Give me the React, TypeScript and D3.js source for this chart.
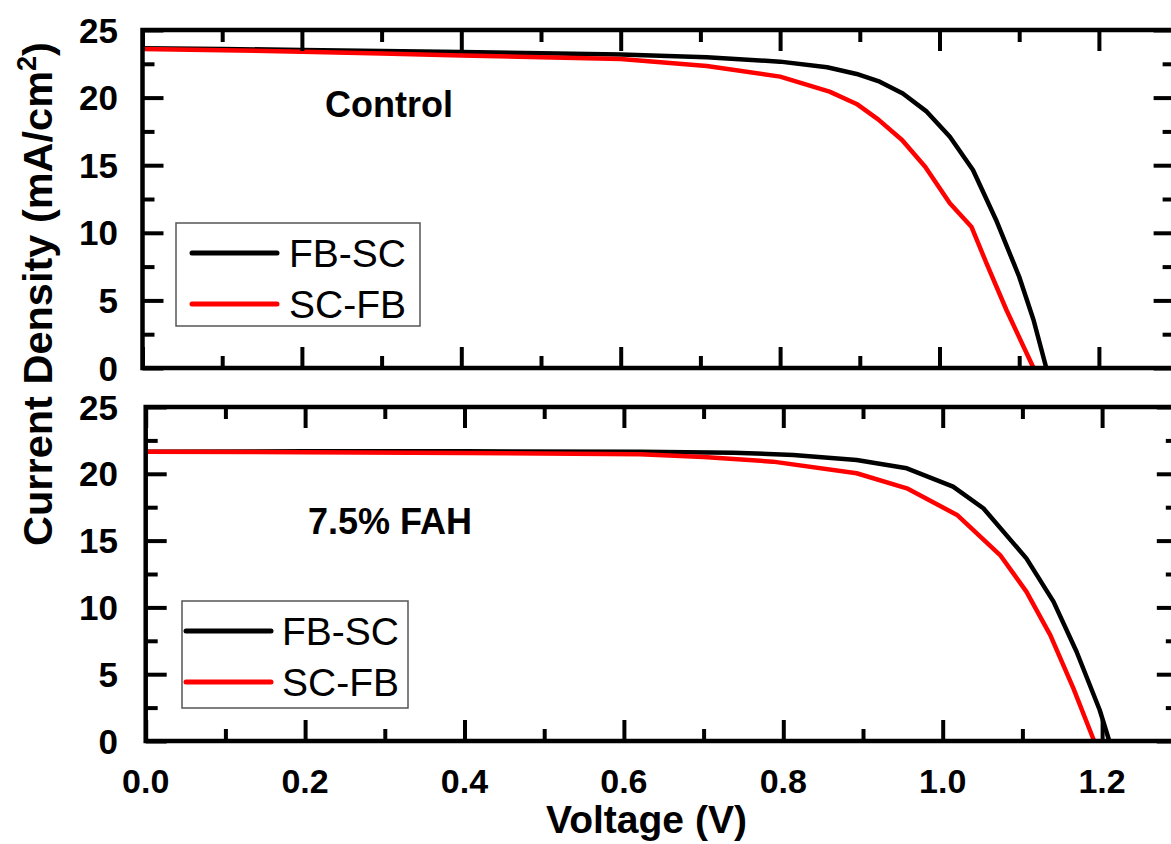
import React, { useEffect, useRef } from "react";
import * as d3 from "d3";

// Control panel, J-V curves (V in volts, J in mA/cm2)
const ctrlFbScV = [0, 0.1, 0.2, 0.3, 0.4, 0.5, 0.6, 0.708, 0.8, 0.859, 0.896, 0.925, 0.954, 0.984, 1.013, 1.042, 1.071, 1.1, 1.118, 1.134];
const ctrlFbScJ = [23.65, 23.6, 23.52, 23.45, 23.37, 23.28, 23.18, 22.98, 22.66, 22.24, 21.75, 21.18, 20.3, 18.96, 17.1, 14.64, 10.95, 6.75, 3.55, 0];
const ctrlScFbV = [0, 0.1, 0.2, 0.3, 0.4, 0.5, 0.6, 0.708, 0.8, 0.862, 0.896, 0.923, 0.953, 0.982, 1.013, 1.04, 1.059, 1.084, 1.118];
const ctrlScFbJ = [23.6, 23.5, 23.4, 23.27, 23.12, 22.98, 22.85, 22.34, 21.55, 20.44, 19.53, 18.39, 16.86, 14.89, 12.18, 10.45, 7.74, 4.29, 0];

// 7.5% FAH panel
const fahFbScV = [0, 0.2, 0.4, 0.62, 0.737, 0.8125, 0.892, 0.955, 1.013, 1.051, 1.105, 1.139, 1.168, 1.197, 1.209];
const fahFbScJ = [21.65, 21.68, 21.68, 21.65, 21.58, 21.41, 21.03, 20.41, 19.04, 17.42, 13.67, 10.43, 6.68, 2.32, 0];
const fahScFbV = [0, 0.2, 0.4, 0.62, 0.7, 0.787, 0.892, 0.955, 1.018, 1.072, 1.105, 1.135, 1.164, 1.19];
const fahScFbJ = [21.65, 21.62, 21.56, 21.46, 21.25, 20.91, 20.04, 18.91, 16.92, 13.92, 11.18, 7.93, 3.94, 0];

const seriesNames = ["FB-SC", "SC-FB"];
const panelTitles = ["Control", "7.5% FAH"];

const xMajorTicks = [0, 0.2, 0.4, 0.6, 0.8, 1.0, 1.2];
const xMinorTicks = [0.1, 0.3, 0.5, 0.7, 0.9, 1.1];
const yMajorTicks = [0, 5, 10, 15, 20, 25];
const yMinorTicks = [2.5, 7.5, 12.5, 17.5, 22.5];

const W = 1171;
const H = 844;
const X_MAX = 1.295;
const PX_PER_V = 797;
const FONT = "'Liberation Sans', Arial, Helvetica, sans-serif";
const COLORS = ["#000000", "#ff0000"];

const panels = [
  {
    x0: 142.5, top: 30, bottom: 368,
    title: panelTitles[0], titleX: 325, titleY: 117,
    series: [[ctrlFbScV, ctrlFbScJ], [ctrlScFbV, ctrlScFbJ]],
    legend: { x: 176, y: 223, w: 244, h: 103, lx1: 192, lx2: 277, tx: 289, rows: [253, 304] },
    xLabels: false,
  },
  {
    x0: 145.7, top: 407, bottom: 741,
    title: panelTitles[1], titleX: 308, titleY: 534,
    series: [[fahFbScV, fahFbScJ], [fahScFbV, fahScFbJ]],
    legend: { x: 182, y: 601, w: 226, h: 107, lx1: 186, lx2: 271, tx: 282, rows: [631, 682] },
    xLabels: true,
  },
];

const App = () => {
  const ref = useRef<SVGSVGElement>(null);

  useEffect(() => {
    const svg = d3.select(ref.current);
    svg.selectAll("*").remove();

    const styleTicks = (g: any) => {
      g.select(".domain").remove();
      g.selectAll("text").remove();
      g.selectAll("line").attr("stroke", "#000").attr("stroke-width", 4);
    };

    panels.forEach(p => {
      const x = d3.scaleLinear().domain([0, X_MAX]).range([p.x0, p.x0 + X_MAX * PX_PER_V]);
      const y = d3.scaleLinear().domain([0, 25]).range([p.bottom, p.top]);
      const [xl, xr] = x.range();
      const g = svg.append("g");

      // curves
      const line = d3
        .line<[number, number]>()
        .x(d => x(d[0]))
        .y(d => y(d[1]));
      p.series.forEach(([vs, js], i) => {
        g.append("path")
          .datum(d3.zip(vs, js) as [number, number][])
          .attr("fill", "none")
          .attr("stroke", COLORS[i])
          .attr("stroke-width", 4.5)
          .attr("stroke-linejoin", "round")
          .attr("d", line);
      });

      // ticks, all pointing inward
      const axes: [any, string][] = [
        [d3.axisBottom(x).tickValues(xMajorTicks).tickSize(-21), `translate(0,${p.bottom})`],
        [d3.axisBottom(x).tickValues(xMinorTicks).tickSize(-12), `translate(0,${p.bottom})`],
        [d3.axisTop(x).tickValues(xMajorTicks).tickSize(-21), `translate(0,${p.top})`],
        [d3.axisTop(x).tickValues(xMinorTicks).tickSize(-12), `translate(0,${p.top})`],
        [d3.axisLeft(y).tickValues(yMajorTicks).tickSize(-21), `translate(${xl},0)`],
        [d3.axisLeft(y).tickValues(yMinorTicks).tickSize(-12), `translate(${xl},0)`],
        [d3.axisRight(y).tickValues(yMajorTicks).tickSize(-21), `translate(${xr},0)`],
        [d3.axisRight(y).tickValues(yMinorTicks).tickSize(-12), `translate(${xr},0)`],
      ];
      axes.forEach(([axis, tr]) => {
        g.append("g").attr("transform", tr).call(axis).call(styleTicks);
      });

      // frame
      g.append("rect")
        .attr("x", xl)
        .attr("y", p.top)
        .attr("width", xr - xl)
        .attr("height", p.bottom - p.top)
        .attr("fill", "none")
        .attr("stroke", "#000")
        .attr("stroke-width", 4.5);

      // y tick labels
      g.selectAll(".ylab")
        .data(yMajorTicks)
        .join("text")
        .attr("x", 118)
        .attr("y", d => y(d))
        .attr("dy", "0.36em")
        .attr("text-anchor", "end")
        .attr("font-family", FONT)
        .attr("font-weight", "bold")
        .attr("font-size", 35)
        .text(d => d);

      if (p.xLabels) {
        g.selectAll(".xlab")
          .data(xMajorTicks)
          .join("text")
          .attr("x", d => x(d))
          .attr("y", 793)
          .attr("text-anchor", "middle")
          .attr("font-family", FONT)
          .attr("font-weight", "bold")
          .attr("font-size", 34)
          .text(d => d3.format(".1f")(d));
      }

      // panel title
      g.append("text")
        .attr("x", p.titleX)
        .attr("y", p.titleY)
        .attr("font-family", FONT)
        .attr("font-weight", "bold")
        .attr("font-size", 36)
        .text(p.title);

      // legend
      const L = p.legend;
      g.append("rect")
        .attr("x", L.x)
        .attr("y", L.y)
        .attr("width", L.w)
        .attr("height", L.h)
        .attr("fill", "#fff")
        .attr("stroke", "#555")
        .attr("stroke-width", 1.5);
      seriesNames.forEach((name, i) => {
        g.append("line")
          .attr("x1", L.lx1)
          .attr("x2", L.lx2)
          .attr("y1", L.rows[i])
          .attr("y2", L.rows[i])
          .attr("stroke", COLORS[i])
          .attr("stroke-width", 5)
          .attr("stroke-linecap", "round");
        g.append("text")
          .attr("x", L.tx)
          .attr("y", L.rows[i])
          .attr("dy", "0.36em")
          .attr("font-family", FONT)
          .attr("font-size", 39)
          .text(name);
      });
    });

    // axis titles
    svg.append("text")
      .attr("x", (543 + 750) / 2)
      .attr("y", 833)
      .attr("text-anchor", "middle")
      .attr("font-family", FONT)
      .attr("font-weight", "bold")
      .attr("font-size", 39)
      .text("Voltage (V)");

    const yt = svg.append("text")
      .attr("transform", "translate(52,294) rotate(-90)")
      .attr("text-anchor", "middle")
      .attr("font-family", FONT)
      .attr("font-weight", "bold")
      .attr("font-size", 41.5);
    yt.append("tspan").text("Current Density (mA/cm");
    yt.append("tspan").attr("font-size", 27).attr("dy", -16).text("2");
    yt.append("tspan").attr("dy", 16).text(")");
  }, []);

  return (
    <svg
      ref={ref}
      width={W}
      height={H}
      style={{ position: "absolute", left: 0, top: 0, background: "#fff" }}
    />
  );
};

export default App;
